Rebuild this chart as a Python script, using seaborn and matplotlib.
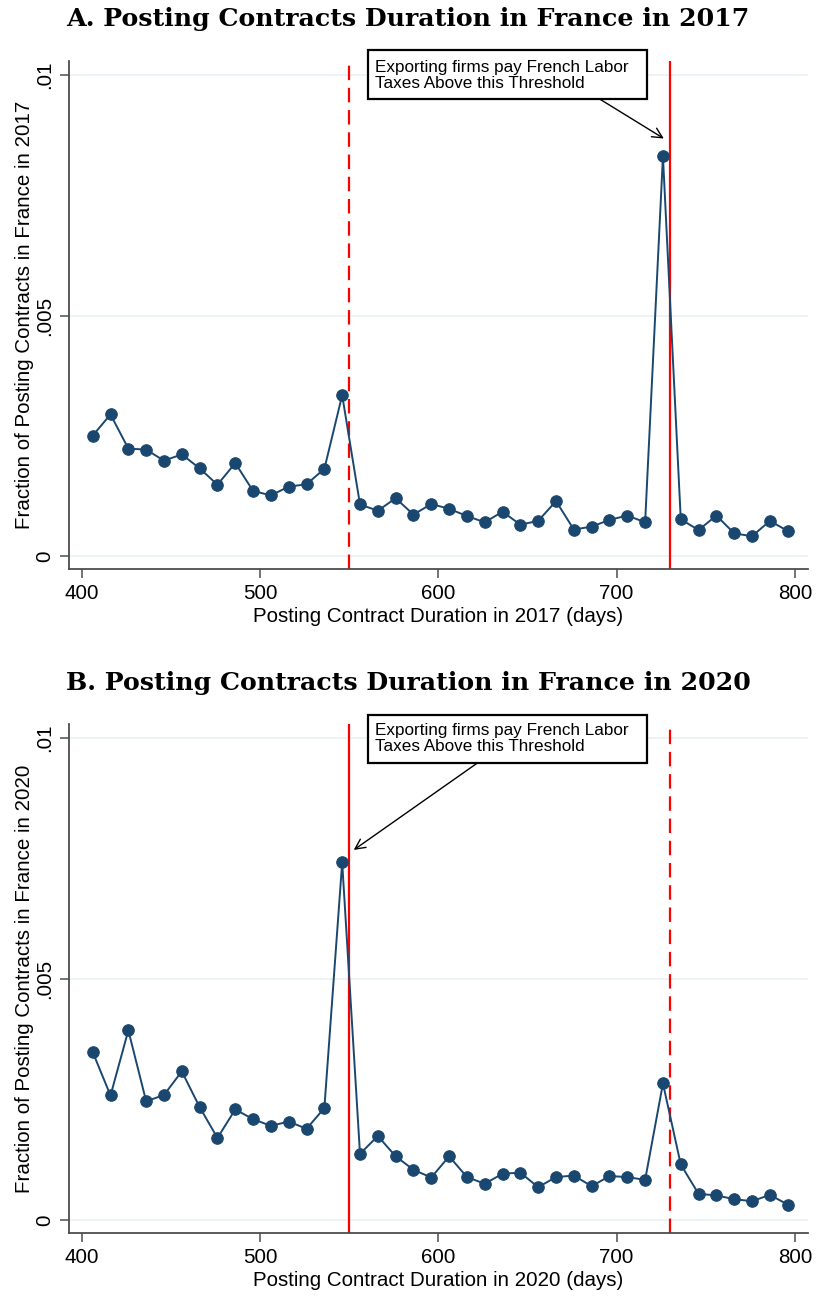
import matplotlib
matplotlib.use("Agg")
import matplotlib.pyplot as plt
from matplotlib.patches import Rectangle
import seaborn as sns
import pandas as pd

# ---------------- data ----------------
days = [406, 416, 426, 436, 446, 456, 466, 476, 486, 496,
        506, 516, 526, 536, 546, 556, 566, 576, 586, 596,
        606, 616, 626, 636, 646, 656, 666, 676, 686, 696,
        706, 716, 726, 736, 746, 756, 766, 776, 786, 796]

frac_2017 = [0.00251, 0.00295, 0.00224, 0.00222, 0.00199, 0.00212, 0.00183, 0.00149, 0.00194, 0.00136,
             0.00127, 0.00145, 0.00150, 0.00182, 0.00335, 0.00108, 0.00095, 0.00121, 0.00087, 0.00109,
             0.00099, 0.00084, 0.00071, 0.00093, 0.00066, 0.00074, 0.00115, 0.00056, 0.00062, 0.00076,
             0.00085, 0.00071, 0.00831, 0.00077, 0.00055, 0.00085, 0.00048, 0.00042, 0.00074, 0.00053]

frac_2020 = [0.00349, 0.00259, 0.00394, 0.00247, 0.00260, 0.00309, 0.00235, 0.00171, 0.00230, 0.00210,
             0.00196, 0.00205, 0.00190, 0.00233, 0.00742, 0.00138, 0.00175, 0.00133, 0.00105, 0.00089,
             0.00133, 0.00090, 0.00076, 0.00097, 0.00099, 0.00069, 0.00090, 0.00093, 0.00071, 0.00092,
             0.00090, 0.00084, 0.00284, 0.00116, 0.00055, 0.00052, 0.00044, 0.00040, 0.00053, 0.00033]

xtick_vals = [400, 500, 600, 700, 800]
ytick_vals = [0, 0.005, 0.01]
ytick_labels = ["0", ".005", ".01"]
threshold_2017 = 730
threshold_2020 = 550
annot_text = "Exporting firms pay French Labor\nTaxes Above this Threshold"

panels = [
    dict(year="2017", values=frac_2017, title="A. Posting Contracts Duration in France in 2017",
         solid=threshold_2017, dashed=threshold_2020,
         tip=(726.5, 0.00868), start=(690.5, 0.00950),
         box=(560.3, 0.009497, 716.9, 0.010512), text=(564.6, 0.00999)),
    dict(year="2020", values=frac_2020, title="B. Posting Contracts Duration in France in 2020",
         solid=threshold_2020, dashed=threshold_2017,
         tip=(552.5, 0.00768), start=(622.2, 0.00949),
         box=(560.3, 0.009488, 716.9, 0.010483), text=(564.6, 0.00999)),
]

# ---------------- style ----------------
sns.set_theme(style="white")
plt.rcParams["font.family"] = ["Liberation Sans", "DejaVu Sans"]
plt.rcParams["text.color"] = "black"
plt.rcParams["axes.labelcolor"] = "black"
plt.rcParams["xtick.color"] = "black"
plt.rcParams["ytick.color"] = "black"

navy = "#1a476f"
grid_col = "#eaf2f3"
spine_col = "#4d4d4d"

W, H = 817, 1310
fig = plt.figure(figsize=(W / 100, H / 100), dpi=100)

axes_px = [(69, 61, 808, 569), (69, 724, 808, 1233)]
title_y = [19, 683]

for p, (l, t, r, b), ty in zip(panels, axes_px, title_y):
    ax = fig.add_axes([l / W, 1 - b / H, (r - l) / W, (b - t) / H])
    df = pd.DataFrame({"days": days, "frac": p["values"]})

    for yv in ytick_vals:
        ax.axhline(yv, color=grid_col, lw=1.3, zorder=0)

    ax.axvline(p["dashed"], color="#ff0000", lw=1.6, ls=(0, (6.5, 3.5)), zorder=1)
    ax.axvline(p["solid"], color="#ff0000", lw=1.6, zorder=1)

    sns.lineplot(data=df, x="days", y="frac", ax=ax, color=navy, lw=1.4,
                 marker="o", markersize=8.3, markeredgecolor=navy,
                 markerfacecolor=navy, zorder=3)

    ax.set_xlim(392.7, 807.4)
    ax.set_ylim(-0.00026, 0.01029)
    ax.set_xticks(xtick_vals)
    ax.set_xticklabels([str(v) for v in xtick_vals], fontsize=14.8)
    ax.set_yticks(ytick_vals)
    ax.set_yticklabels(ytick_labels, fontsize=14.8, rotation=90, va="center")
    ax.tick_params(axis="both", direction="out", length=6.5, width=1.1,
                   color=spine_col, labelcolor="black", pad=4, left=True, bottom=True)
    ax.tick_params(axis="x", pad=4)
    for s in ["top", "right"]:
        ax.spines[s].set_visible(False)
    for s in ["left", "bottom"]:
        ax.spines[s].set_color(spine_col)
        ax.spines[s].set_linewidth(1.3)

    ax.set_xlabel(f"Posting Contract Duration in {p['year']} (days)", fontsize=14.8, labelpad=3)
    ax.set_ylabel(f"Fraction of Posting Contracts in France in {p['year']}", fontsize=14.8, labelpad=1)

    bx0, by0, bx1, by1 = p["box"]
    ax.add_patch(Rectangle((bx0, by0), bx1 - bx0, by1 - by0, fc="white", ec="black",
                           lw=1.6, zorder=5, clip_on=False))
    ax.text(p["text"][0], p["text"][1], annot_text, fontsize=12.3, ha="left", va="center",
            linespacing=1.12, zorder=6, clip_on=False)
    ax.annotate("", xy=p["tip"], xytext=p["start"], zorder=4, annotation_clip=False,
                arrowprops=dict(arrowstyle="->,head_length=0.6,head_width=0.3",
                                color="black", lw=1.0, shrinkA=0, shrinkB=0))

    fig.text(408 / W, 1 - ty / H, p["title"], ha="center", va="center",
             fontsize=18.2, fontweight="bold", family=["DejaVu Serif"])

fig.savefig("out.png", dpi=100, facecolor="white")
